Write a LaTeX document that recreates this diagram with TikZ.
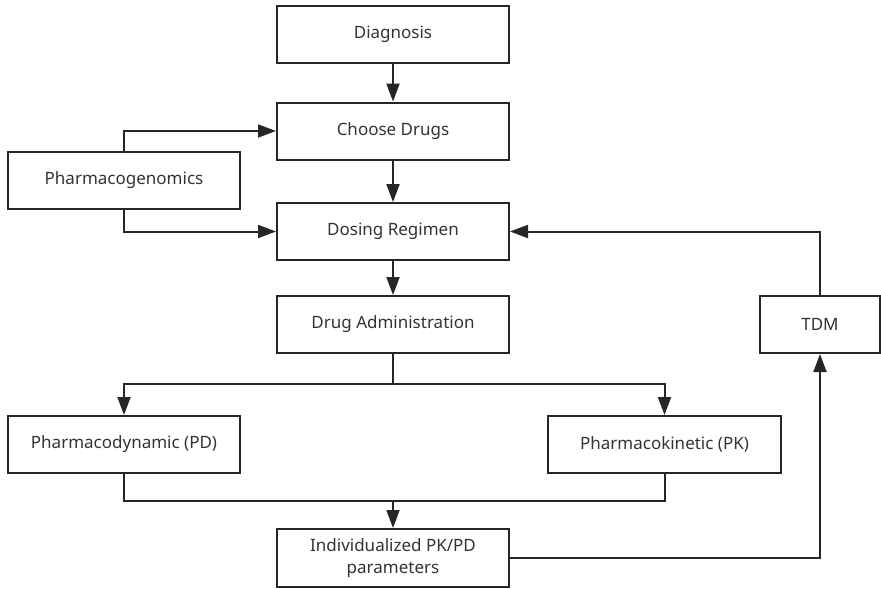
\documentclass[tikz,border=0pt]{standalone}
\usepackage{fontspec}
\setmainfont{Noto Sans}
\usetikzlibrary{arrows.meta}
\begin{document}
\begin{tikzpicture}[x=1pt,y=-1pt,
  box/.style={draw=black!85, line width=2pt, minimum width=232pt, minimum height=57pt, inner sep=0pt,
    font=\fontsize{17}{22}\selectfont, text=black!80, align=center},
  arr/.style={draw=black!85, line width=2pt, -{Triangle[length=18pt,width=13pt]}},
  ln/.style={draw=black!85, line width=2pt}]
\useasboundingbox (0,0) rectangle (881,589);
\node[box] (diag) at (393,34.5) {\raisebox{-2pt}{Diagnosis}};
\node[box] (choose) at (393,131) {\raisebox{-2pt}{Choose Drugs}};
\node[box] (pg) at (124,180.5) {\raisebox{-2pt}{Pharmacogenomics}};
\node[box] (dose) at (393,231.5) {\raisebox{-2pt}{Dosing Regimen}};
\node[box] (admin) at (393,324.5) {\raisebox{-2pt}{Drug Administration}};
\node[box, minimum width=120pt] (tdm) at (820,324.5) {\raisebox{-2pt}{TDM}};
\node[box] (pd) at (124,444.5) {\raisebox{-2pt}{Pharmacodynamic (PD)}};
\node[box, minimum width=233pt] (pk) at (664.5,444.5) {\raisebox{-2pt}{Pharmacokinetic (PK)}};
\node[box, minimum height=58pt] (ind) at (393,558) {Individualized PK/PD\\parameters};
\coordinate (br) at (393,384);
\coordinate (mg) at (393,501);
\draw[arr] (diag) -- (choose);
\draw[arr] (choose) -- (dose);
\draw[arr] (pg.north) |- (choose.west);
\draw[arr] (pg.south) |- (dose.west);
\draw[arr] (dose) -- (admin);
\draw[arr] (tdm.north) |- (dose.east);
\draw[ln] (admin.south) -- (br);
\draw[arr] (br) -| (pd.north);
\draw[arr] (br) -| (pk.north);
\draw[ln] (pd.south) |- (mg) -| (pk.south);
\draw[arr] (mg) -- (ind);
\draw[arr] (ind.east) -| (tdm.south);
\end{tikzpicture}
\end{document}
